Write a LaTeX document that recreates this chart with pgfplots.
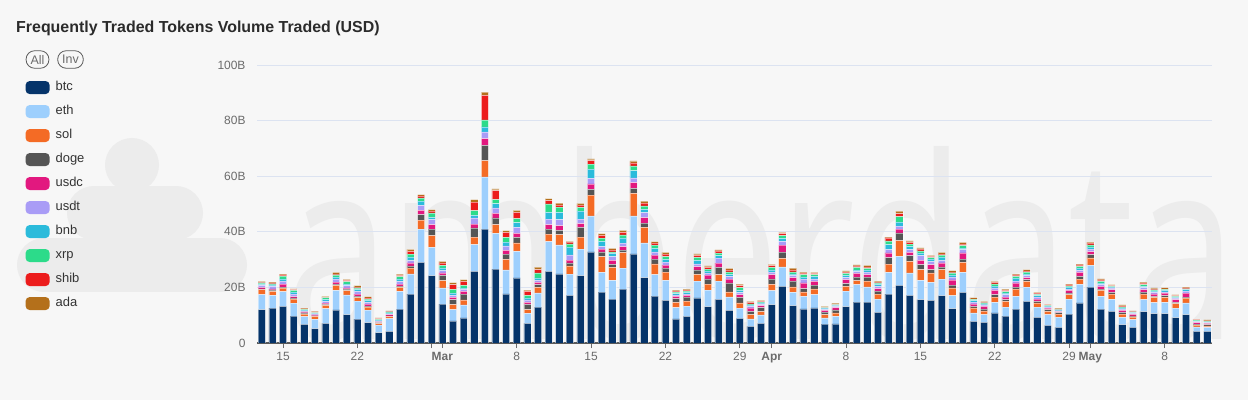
\documentclass[border=0pt]{standalone}
\usepackage{fontspec}
\setmainfont{Liberation Sans}
\newfontfamily\wmfont{Open Sans}
\usepackage{graphicx}
\usepackage{pgfplots}
\usepackage{pgfplotstable}
\pgfplotsset{compat=1.18}

\definecolor{bgcol}{HTML}{F7F7F7}
\definecolor{wmcol}{HTML}{ECECEC}
\definecolor{cbtc}{HTML}{05346A}
\definecolor{ceth}{HTML}{9DCFFD}
\definecolor{csol}{HTML}{F46B25}
\definecolor{cdoge}{HTML}{555555}
\definecolor{cusdc}{HTML}{E2187F}
\definecolor{cusdt}{HTML}{A99CF6}
\definecolor{cbnb}{HTML}{2BBBDB}
\definecolor{cxrp}{HTML}{2CDB8A}
\definecolor{cshib}{HTML}{EC1C1C}
\definecolor{cada}{HTML}{B4701B}
\definecolor{gridcol}{HTML}{DCE3F1}
\definecolor{labgray}{HTML}{6B6B6B}
\definecolor{axisgray}{HTML}{5A5A5A}
\definecolor{titlecol}{HTML}{2B2B2B}
\definecolor{legtext}{HTML}{333333}

\pgfplotstableread{
i btc eth sol doge usdc usdt bnb xrp shib ada
0 12.0 5.4 1.8 0.3 0.5 0.7 0.4 0.5 0.2 0.4
1 12.5 4.6 1.5 0.5 0.4 0.9 0.5 0.4 0.3 0.3
2 13.2 5.3 1.2 0.4 1.1 1.1 0.8 1.0 0.4 0.3
3 9.7 4.6 1.5 0.4 0.5 0.9 0.7 0.6 0.3 0.3
4 6.7 2.8 0.9 0.4 0.4 0.2 0.4 0.3 0.2 0.2
5 5.2 3.3 1.1 0.2 0.3 0.3 0.3 0.2 0.3 0.2
6 7.1 5.3 1.1 0.4 0.4 0.7 0.7 0.6 0.2 0.3
7 11.9 7.0 1.8 0.5 0.7 1.1 0.7 0.8 0.4 0.5
8 10.2 7.1 1.5 0.6 0.4 0.8 0.7 0.8 0.4 0.4
9 8.6 6.5 1.2 0.6 0.7 1.0 0.7 0.5 0.3 0.5
10 7.3 4.5 1.1 0.4 0.7 0.6 0.7 0.5 0.4 0.5
11 3.7 2.7 0.6 0.3 0.3 0.2 0.4 0.3 0.3 0.2
12 4.2 4.6 0.7 0.3 0.4 0.2 0.4 0.4 0.2 0.2
13 12.2 6.4 1.4 0.5 0.7 1.0 0.9 0.8 0.4 0.5
14 17.6 7.3 2.0 0.8 1.1 0.8 1.3 1.1 1.0 0.7
15 29.0 12.0 3.2 2.0 1.5 1.8 1.5 1.2 0.7 0.5
16 24.2 10.2 4.2 2.4 1.6 1.8 0.8 1.6 0.6 0.6
17 14.0 5.8 2.6 1.9 0.9 0.8 1.0 0.9 0.9 0.6
18 8.0 4.0 1.8 1.8 0.8 0.7 0.8 1.4 1.7 0.7
19 9.0 4.7 1.8 2.1 1.0 0.7 0.5 0.9 1.5 0.6
20 25.8 9.6 2.7 3.3 1.4 2.2 0.9 1.7 3.1 0.9
21 41.0 18.8 5.8 5.5 2.4 2.4 1.8 2.6 8.8 1.1
22 26.6 12.8 3.2 2.4 1.6 2.0 1.5 1.5 3.2 0.6
23 17.7 8.6 3.8 1.9 1.3 1.6 1.4 1.7 1.8 0.6
24 23.4 9.6 3.0 2.0 1.4 2.2 1.7 1.4 2.3 0.7
25 7.1 3.6 1.3 1.9 0.7 0.9 0.7 0.9 1.5 0.4
26 12.9 5.1 2.0 1.0 0.8 0.7 0.9 1.8 1.2 0.9
27 25.8 10.7 2.7 1.8 1.6 2.0 2.4 3.0 1.2 0.7
28 24.9 10.4 3.7 1.5 1.7 2.2 2.6 1.9 0.8 0.6
29 17.1 7.7 2.9 1.1 1.0 1.9 2.8 1.2 0.6 0.3
30 24.2 9.6 4.3 3.5 1.3 1.7 2.8 1.4 0.8 0.6
31 32.8 12.9 7.5 2.1 1.9 2.0 3.3 1.8 1.3 0.6
32 18.3 7.1 5.7 1.7 1.0 0.9 1.9 1.1 1.0 0.6
33 15.8 6.7 4.7 1.1 1.4 1.4 1.1 0.6 0.7 0.5
34 19.4 7.5 5.6 0.9 1.3 1.2 1.9 1.1 0.9 0.7
35 32.1 13.6 8.1 1.8 2.1 1.7 2.6 1.7 1.1 0.7
36 23.5 12.5 5.6 1.5 2.0 1.8 1.2 1.2 1.0 0.7
37 16.9 7.7 3.9 1.7 1.4 1.2 1.2 1.2 0.8 0.5
38 15.3 7.2 3.0 1.4 1.1 1.1 1.0 1.0 0.9 0.6
39 8.7 4.0 1.9 1.4 0.8 0.4 0.6 0.5 0.4 0.3
40 9.6 3.7 1.8 1.4 0.6 0.5 0.6 0.5 0.3 0.4
41 16.2 6.1 2.4 1.6 1.2 1.0 1.2 1.1 0.7 0.6
42 13.1 5.9 2.2 1.9 1.3 0.7 0.8 0.7 0.6 0.5
43 15.7 6.6 2.3 2.6 1.5 1.8 0.9 0.9 0.8 0.4
44 11.7 4.9 1.8 3.2 1.4 1.0 0.7 0.9 0.7 0.5
45 8.9 3.6 1.9 2.0 1.0 0.7 0.8 1.0 0.7 0.6
46 6.0 2.7 1.5 1.2 1.2 0.6 0.5 0.4 0.5 0.4
47 7.1 3.0 1.2 1.4 0.7 0.5 0.5 0.3 0.3 0.3
48 13.8 5.0 2.3 2.0 1.5 0.9 0.8 0.9 0.6 0.5
49 20.4 7.0 3.0 2.3 2.5 1.4 1.0 1.0 0.7 0.5
50 13.4 4.8 2.0 2.1 1.2 0.7 0.7 0.7 0.7 0.6
51 12.3 4.5 1.6 1.2 2.0 1.4 0.7 0.9 0.5 0.4
52 12.6 4.8 2.1 1.3 1.4 0.9 0.9 0.6 0.4 0.4
53 6.8 2.2 1.2 0.9 0.6 0.4 0.4 0.2 0.2 0.3
54 6.9 2.7 1.2 1.1 0.8 0.5 0.3 0.3 0.2 0.3
55 13.1 5.6 1.7 1.0 1.4 0.7 0.8 0.7 0.5 0.4
56 14.7 6.3 1.4 1.3 1.3 0.7 0.6 0.9 0.5 0.4
57 14.7 5.5 2.1 1.4 0.9 0.9 0.7 0.6 0.6 0.5
58 11.0 4.8 1.8 1.1 0.9 0.8 0.7 0.5 0.3 0.4
59 17.6 7.8 3.0 2.3 1.7 1.2 1.8 1.3 1.1 0.3
60 20.7 10.5 5.6 2.8 1.4 1.0 1.5 2.0 1.0 0.9
61 17.1 8.1 4.2 2.0 1.2 1.0 1.2 0.8 0.6 0.5
62 15.6 6.9 3.9 1.8 1.5 1.7 1.0 0.7 0.7 0.4
63 15.3 6.5 3.4 1.2 1.8 1.2 0.8 0.5 0.5 0.3
64 17.0 6.0 3.4 0.9 1.5 0.9 1.2 0.7 0.5 0.5
65 12.4 4.6 2.8 1.0 1.9 1.0 0.8 0.7 0.4 0.4
66 18.2 7.2 3.6 1.2 2.2 1.2 0.6 0.8 0.7 0.5
67 7.8 3.0 1.8 0.6 0.9 0.6 0.5 0.5 0.2 0.4
68 7.4 2.8 1.4 0.7 0.9 0.5 0.4 0.3 0.2 0.4
69 10.8 3.8 1.9 0.9 1.5 0.9 0.7 0.8 0.5 0.4
70 9.7 3.2 2.1 0.6 0.9 0.9 0.6 0.5 0.4 0.5
71 12.2 4.6 2.6 0.7 1.5 0.7 1.0 0.7 0.5 0.3
72 15.0 5.1 2.1 0.6 0.7 0.7 0.7 0.6 0.4 0.5
73 9.2 3.7 1.5 0.6 0.8 0.7 0.5 0.5 0.4 0.3
74 6.3 3.9 1.2 0.6 0.5 0.4 0.4 0.2 0.3 0.2
75 5.6 3.7 1.1 0.5 0.4 0.3 0.3 0.1 0.2 0.3
76 10.4 5.4 1.6 0.6 0.9 0.5 0.7 0.4 0.4 0.3
77 14.4 6.7 1.9 1.0 1.4 0.7 0.8 0.7 0.5 0.3
78 20.1 7.8 2.7 1.2 1.1 0.9 0.7 0.8 0.6 0.4
79 12.2 4.6 2.1 0.5 1.0 0.6 0.6 0.6 0.5 0.4
80 11.4 4.3 1.9 0.6 1.0 0.6 0.3 0.3 0.2 0.4
81 6.6 2.6 1.2 0.6 0.7 0.5 0.4 0.3 0.4 0.4
82 5.6 2.8 1.0 0.4 0.5 0.4 0.2 0.3 0.2 0.2
83 11.3 4.3 2.0 0.7 0.9 0.7 0.5 0.6 0.5 0.4
84 10.6 3.9 1.9 0.4 0.9 0.5 0.5 0.4 0.3 0.4
85 10.6 4.0 1.8 0.6 0.9 0.5 0.5 0.4 0.2 0.4
86 9.1 3.4 1.7 0.4 1.0 0.5 0.3 0.4 0.2 0.4
87 10.2 4.2 1.7 0.4 1.4 0.8 0.5 0.3 0.3 0.3
88 4.2 1.6 0.6 0.4 0.5 0.4 0.2 0.3 0.2 0.2
89 4.2 1.4 0.6 0.4 0.5 0.2 0.3 0.2 0.2 0.3
}\data

\pgfplotsset{
  myleg/.style={legend image code/.code={\fill[##1,draw=none,rounded corners=4bp] (0bp,-6.5bp) rectangle (24bp,6.5bp);}},
}

\begin{document}
\begin{tikzpicture}
\fill[bgcol] (0,0) rectangle (1248bp,400bp);
\useasboundingbox (0,0) rectangle (1248bp,400bp);
% watermark logo
\fill[wmcol] (132bp,235bp) circle (27bp);
\draw[wmcol,line width=54bp,line cap=round] (94bp,187bp) -- (176bp,187bp);
\draw[wmcol,line width=54bp,line cap=round] (44bp,135bp) -- (220bp,135bp);
\node[anchor=base west,inner sep=0pt,text=wmcol] at (286bp,60bp)
  {\scalebox{0.73}[1]{\wmfont\fontsize{255}{255}\selectfont amberdata}};
% title
\node[anchor=base west,inner sep=0pt,text=titlecol] at (16bp,367bp)
  {\fontsize{16}{19}\selectfont\bfseries Frequently Traded Tokens Volume Traded (USD)};
% All / Inv pills
\node[draw=axisgray,rounded corners=8.5bp,inner xsep=4.5bp,inner ysep=0pt,minimum height=17.5bp,line width=0.8bp,text=labgray,font=\fontsize{12.5}{14}\selectfont] at (37.5bp,340.5bp) {All};
\node[draw=axisgray,rounded corners=8.5bp,inner xsep=4.5bp,inner ysep=0pt,minimum height=17.5bp,line width=0.8bp,text=labgray,font=\fontsize{12.5}{14}\selectfont] at (70.5bp,340.5bp) {Inv};

\begin{axis}[
  at={(257bp,57bp)}, anchor=south west,
  scale only axis, width=955bp, height=278bp,
  xmin=-0.45, xmax=89.45, ymin=0, ymax=100,
  ybar stacked, bar width=7.2bp,
  axis x line*=bottom, axis y line*=left,
  y axis line style={draw=none},
  x axis line style={draw=axisgray,line width=1.2bp},
  ytick={0,20,40,60,80,100},
  yticklabels={0,20B,40B,60B,80B,100B},
  ymajorgrids, grid style={gridcol,line width=0.8bp},
  xtick={2,9,16,17,24,31,38,45,48,55,62,69,76,78,85},
  xticklabels={15,22,,\textbf{Mar},8,15,22,29,\textbf{Apr},8,15,22,29,\textbf{May},8},
  major tick length=5bp, tick align=outside,
  ytick style={draw=none},
  xtick style={draw=labgray,line width=0.8bp},
  tick label style={font=\fontsize{12}{14}\selectfont, text=labgray},
  yticklabel style={xshift=-3bp},
  xticklabel style={yshift=-1bp},
  every axis plot/.append style={draw=white,draw opacity=0.45,line width=0.5bp},
  legend style={at={(-0.2425,0.943)},anchor=north west,draw=none,fill=none,inner sep=0pt,
    font=\color{legtext}\fontsize{13}{15}\selectfont,
    nodes={inner sep=0pt,text height=9.5bp,text depth=3bp},
    row sep=11bp,
    /tikz/every odd column/.append style={column sep=6bp}},
  legend cell align=left,
]
\addplot[fill=cbtc,myleg] table[x=i,y=btc]{\data};
\addplot[fill=ceth,myleg] table[x=i,y=eth]{\data};
\addplot[fill=csol,myleg] table[x=i,y=sol]{\data};
\addplot[fill=cdoge,myleg] table[x=i,y=doge]{\data};
\addplot[fill=cusdc,myleg] table[x=i,y=usdc]{\data};
\addplot[fill=cusdt,myleg] table[x=i,y=usdt]{\data};
\addplot[fill=cbnb,myleg] table[x=i,y=bnb]{\data};
\addplot[fill=cxrp,myleg] table[x=i,y=xrp]{\data};
\addplot[fill=cshib,myleg] table[x=i,y=shib]{\data};
\addplot[fill=cada,myleg] table[x=i,y=ada]{\data};
\legend{btc,eth,sol,doge,usdc,usdt,bnb,xrp,shib,ada}
\end{axis}
\end{tikzpicture}
\end{document}
